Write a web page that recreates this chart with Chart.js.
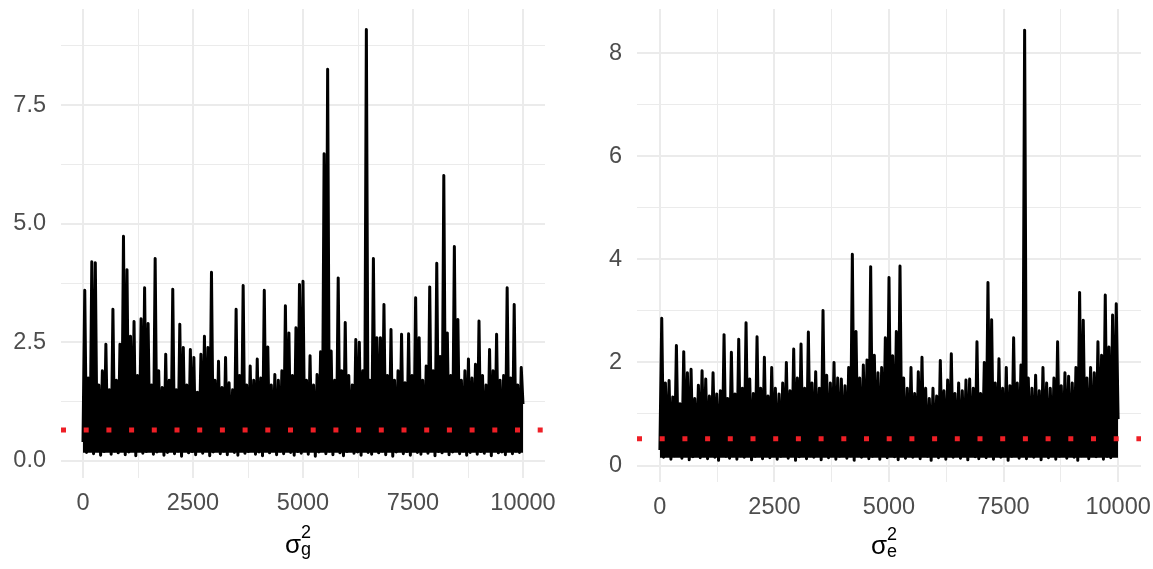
<!DOCTYPE html>
<html>
<head>
<meta charset="utf-8">
<script src="https://cdn.jsdelivr.net/npm/chart.js@4.4.1/dist/chart.umd.min.js"></script>
<style>
  html, body { margin: 0; padding: 0; background: #fff; }
  #wrap { position: relative; width: 1153px; height: 569px; overflow: hidden; }
  canvas { position: absolute; top: 0; }
  .xt { position: absolute; font-family: 'Liberation Sans', Arial, sans-serif; color: #000; white-space: nowrap; line-height: 1; }
  .xt span { position: absolute; line-height: 1; }
  .sig { font-size: 26px; }
  .idx { font-size: 18px; }
</style>
</head>
<body>
<div id="wrap">
  <canvas id="traceG" width="576" height="569" style="left:0"></canvas>
  <canvas id="traceE" width="577" height="569" style="left:576px"></canvas>
  <div class="xt" style="left:285px;top:0">
    <span class="sig" style="left:0;top:531px">σ</span>
    <span class="idx" style="left:16px;top:523px">2</span>
    <span class="idx" style="left:16px;top:540px">g</span>
  </div>
  <div class="xt" style="left:871px;top:0">
    <span class="sig" style="left:0;top:532px">σ</span>
    <span class="idx" style="left:16px;top:525px">2</span>
    <span class="idx" style="left:16px;top:542px">e</span>
  </div>
</div>
<script>
// MCMC draws, kept every 40th iteration (0 .. 10000)
const iterStep = 40;

const gTrace = [
  0.40,3.60, 0.18,1.75, 0.22,4.20, 0.15,4.18, 0.25,1.60, 0.12,1.90, 0.20,2.46, 0.28,1.50, 0.14,3.20, 0.21,1.70,
  0.17,2.46, 0.24,4.74, 0.13,4.03, 0.19,2.63, 0.26,2.94, 0.11,1.80, 0.22,3.00, 0.16,3.65, 0.20,2.90, 0.27,1.60,
  0.14,4.27, 0.19,1.90, 0.23,1.55, 0.12,2.25, 0.18,1.70, 0.25,3.62, 0.15,1.50, 0.21,2.88, 0.10,2.39, 0.24,1.60,
  0.17,2.35, 0.20,2.18, 0.13,1.45, 0.26,2.25, 0.16,2.63, 0.22,2.39, 0.11,3.98, 0.19,1.70, 0.24,2.10, 0.15,1.55,
  0.21,2.18, 0.13,1.65, 0.27,1.50, 0.18,3.20, 0.12,1.80, 0.23,3.70, 0.16,1.60, 0.20,2.00, 0.25,1.70, 0.14,2.15,
  0.19,1.75, 0.11,3.60, 0.22,2.40, 0.17,1.60, 0.26,1.82, 0.13,1.70, 0.21,1.90, 0.15,3.27, 0.24,2.70, 0.18,1.80,
  0.12,2.81, 0.20,3.72, 0.16,3.79, 0.25,1.70, 0.14,2.22, 0.22,1.60, 0.10,1.82, 0.19,2.30, 0.23,6.48, 0.15,8.26,
  0.21,2.32, 0.13,1.70, 0.26,3.86, 0.17,1.90, 0.11,2.92, 0.20,1.80, 0.24,1.60, 0.16,2.56, 0.19,2.50, 0.12,1.90,
  0.22,9.10, 0.18,1.70, 0.14,4.27, 0.25,2.60, 0.17,2.60, 0.21,3.30, 0.13,1.80, 0.23,2.77, 0.10,1.70, 0.19,1.90,
  0.26,2.67, 0.15,1.65, 0.20,2.68, 0.12,1.80, 0.24,3.44, 0.18,2.60, 0.14,1.70, 0.22,2.00, 0.16,3.67, 0.27,1.90,
  0.11,4.17, 0.20,2.20, 0.17,6.02, 0.23,2.70, 0.13,1.80, 0.19,4.52, 0.25,2.98, 0.15,1.70, 0.21,1.90, 0.12,2.15,
  0.18,1.75, 0.24,2.04, 0.14,2.95, 0.20,1.80, 0.16,1.60, 0.26,2.35, 0.11,1.90, 0.22,2.67, 0.17,1.70, 0.19,1.80,
  0.13,3.65, 0.23,1.75, 0.15,3.30, 0.21,1.60, 0.18,1.97,
  1.20
];

const eTrace = [
  0.30,2.86, 0.16,1.60, 0.21,1.65, 0.12,1.33, 0.19,2.33, 0.24,1.20, 0.14,2.21, 0.20,1.80, 0.11,1.87, 0.17,1.30,
  0.22,1.56, 0.15,1.84, 0.19,1.68, 0.13,1.35, 0.25,1.80, 0.16,1.39, 0.10,1.45, 0.21,2.54, 0.18,1.30, 0.14,2.20,
  0.23,1.39, 0.12,2.45, 0.19,1.50, 0.16,2.77, 0.21,1.68, 0.11,1.40, 0.18,2.50, 0.24,1.50, 0.13,2.10, 0.20,1.35,
  0.15,1.90, 0.22,1.50, 0.12,1.39, 0.18,1.60, 0.25,2.00, 0.14,1.45, 0.20,2.26, 0.10,1.70, 0.17,2.36, 0.23,1.50,
  0.13,2.59, 0.19,1.60, 0.16,1.82, 0.21,1.50, 0.11,3.01, 0.24,1.75, 0.15,1.60, 0.20,2.00, 0.12,1.70, 0.18,1.68,
  0.22,1.55, 0.14,1.90, 0.19,4.10, 0.10,2.60, 0.25,1.70, 0.16,1.95, 0.21,2.05, 0.13,3.86, 0.18,2.14, 0.23,1.80,
  0.12,1.90, 0.20,2.48, 0.15,3.65, 0.24,2.13, 0.17,2.60, 0.11,3.87, 0.22,1.70, 0.14,1.50, 0.19,1.90, 0.16,1.40,
  0.21,1.82, 0.13,2.10, 0.25,1.50, 0.18,1.30, 0.10,1.50, 0.20,1.35, 0.15,2.04, 0.23,1.45, 0.12,1.66, 0.19,2.17,
  0.16,1.40, 0.22,1.60, 0.14,1.45, 0.20,1.66, 0.11,1.68, 0.24,1.50, 0.17,2.40, 0.13,1.40, 0.21,2.00, 0.15,3.55,
  0.19,2.83, 0.12,1.60, 0.23,2.07, 0.16,1.50, 0.20,1.90, 0.10,1.55, 0.18,2.48, 0.25,1.60, 0.14,1.95, 0.21,8.45,
  0.13,1.70, 0.19,1.50, 0.16,1.75, 0.22,1.45, 0.11,1.90, 0.24,1.60, 0.15,1.50, 0.20,1.70, 0.12,2.40, 0.18,1.55,
  0.23,1.80, 0.14,1.73, 0.21,1.60, 0.16,1.90, 0.10,3.36, 0.19,2.82, 0.25,1.70, 0.13,1.90, 0.20,1.80, 0.17,2.40,
  0.22,2.14, 0.12,3.31, 0.18,2.30, 0.15,2.92, 0.21,3.14,
  0.90
];

// posterior means (red dotted reference lines)
const gMean = 0.65;
const eMean = 0.52;

// axis breaks (major + minor, like ggplot)
const xBreaks = [0, 1250, 2500, 3750, 5000, 6250, 7500, 8750, 10000];
const gBreaks = [0, 1.25, 2.5, 3.75, 5, 6.25, 7.5, 8.75];
const eBreaks = [0, 1, 2, 3, 4, 5, 6, 7, 8];

const FONT = "'Liberation Sans', Arial, sans-serif";
const GRID = '#EBEBEB';

function isMajor(v, step) {
    return Math.abs(v / step - Math.round(v / step)) < 1e-9;
}

function drawTrace(canvasId, trace, mean, yBreaks, yStep, yMin, yMax, fmt, opts) {
    const ctx = document.getElementById(canvasId);
    const points = trace.map((v, i) => ({ x: i * iterStep, y: v }));

    return new Chart(ctx, {
        type: 'line',
        data: {
            datasets: [
                {
                    data: points,
                    borderColor: '#000',
                    backgroundColor: '#000',
                    // fill the body of the chain so the dense band reads solid
                    fill: { target: { value: opts.floor } },
                    borderWidth: 3,
                    borderJoinStyle: 'round',
                    pointRadius: 0,
                    tension: 0,
                    order: 2
                },
                {
                    data: [{ x: -500, y: mean }, { x: 10500, y: mean }],
                    borderColor: '#EE1F26',
                    borderWidth: 5,
                    borderDash: [5, 17.7],
                    borderCapStyle: 'butt',
                    pointRadius: 0,
                    fill: false,
                    order: 1
                }
            ]
        },
        options: {
            responsive: false,
            animation: false,
            devicePixelRatio: 1,
            events: [],
            layout: { padding: { top: 9, right: opts.padRight, left: 0, bottom: 0 } },
            plugins: { legend: { display: false }, tooltip: { enabled: false } },
            scales: {
                x: {
                    type: 'linear',
                    min: -500,
                    max: 10500,
                    afterBuildTicks: s => { s.ticks = xBreaks.map(v => ({ value: v })); },
                    afterFit: s => { s.height = opts.xHeight; s.paddingLeft = 0; s.paddingRight = 0; },
                    border: { display: false },
                    grid: {
                        color: GRID,
                        drawTicks: false,
                        lineWidth: c => isMajor(c.tick.value, 2500) ? 2 : 1
                    },
                    ticks: {
                        autoSkip: false,
                        maxRotation: 0,
                        padding: 11,
                        color: '#4D4D4D',
                        font: { family: FONT, size: 23.5 },
                        callback: v => isMajor(v, 2500) ? String(v) : ''
                    }
                },
                y: {
                    type: 'linear',
                    min: yMin,
                    max: yMax,
                    afterBuildTicks: s => { s.ticks = yBreaks.map(v => ({ value: v })); },
                    afterFit: s => { s.width = 61; s.paddingTop = 0; s.paddingBottom = 0; },
                    border: { display: false },
                    grid: {
                        color: GRID,
                        drawTicks: false,
                        lineWidth: c => isMajor(c.tick.value, yStep) ? 2 : 1
                    },
                    ticks: {
                        autoSkip: false,
                        padding: 15,
                        color: '#4D4D4D',
                        font: { family: FONT, size: 23.5 },
                        callback: v => isMajor(v, yStep) ? fmt(v) : ''
                    }
                }
            }
        }
    });
}

drawTrace('traceG', gTrace, gMean, gBreaks, 2.5, -0.36, 9.53,
    v => v.toFixed(1), { padRight: 31, xHeight: 91, floor: 0.17 });
drawTrace('traceE', eTrace, eMean, eBreaks, 2, -0.32, 8.86,
    v => String(v), { padRight: 12, xHeight: 87, floor: 0.15 });
</script>
</body>
</html>
